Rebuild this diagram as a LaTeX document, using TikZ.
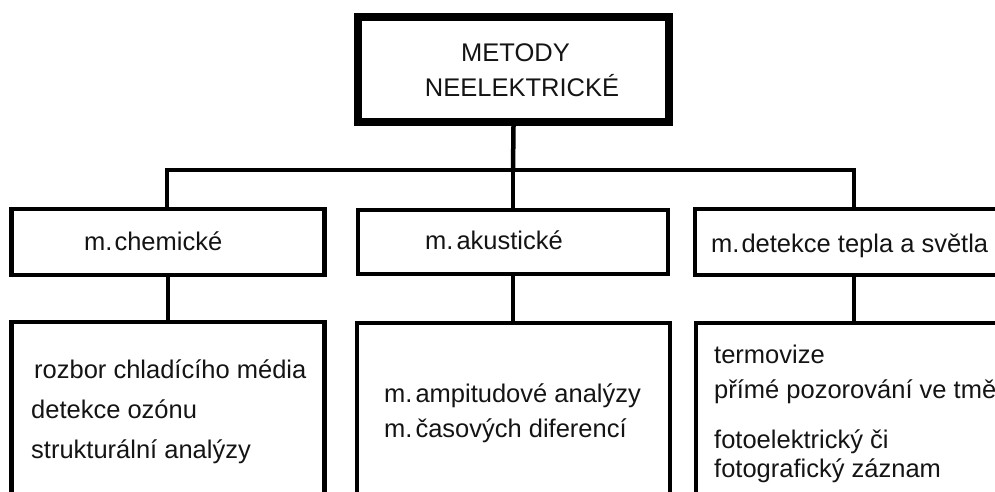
\documentclass[tikz,border=0pt]{standalone}
\usepackage{fontspec}
\setmainfont{Liberation Sans}
\begin{document}
\begin{tikzpicture}[x=1pt,y=-1pt,
  box/.style={draw=black, line width=4.5pt, inner sep=0pt, rectangle, fill=white},
  topbox/.style={box, line width=8.3pt},
  txt/.style={anchor=base west, inner sep=0pt, text=black!92, font=\fontsize{25.5}{30}\selectfont},
  ctxt/.style={txt, anchor=base},
  conn/.style={line width=4.5pt, line cap=rect}]
\useasboundingbox (0,0) rectangle (995,492);
\clip (0,0) rectangle (995,492);
% connectors
\coordinate (hL) at (167,170);
\coordinate (hR) at (854,170);
\coordinate (hM) at (513,170);
% boxes
\node[topbox, minimum width=311pt, minimum height=105pt] (top) at (513.5,69.5) {};
\node[box, minimum width=313pt, minimum height=66pt] (m1) at (168,242) {};
\node[box, minimum width=310pt, minimum height=64pt] (m2) at (513,242) {};
\node[box, minimum width=318pt, minimum height=66pt] (m3) at (854,242) {};
\node[box, minimum width=313pt, minimum height=240pt] (b1) at (168,442) {};
\node[box, minimum width=313pt, minimum height=240pt] (b2) at (513.5,443) {};
\node[box, minimum width=318pt, minimum height=240pt] (b3) at (855,443) {};
\draw[conn] (top.south) -- (hM);
\draw[conn] (hL) -- (hR);
\draw[conn] (hL) -- (hL |- m1.north);
\draw[conn] (hM) -- (m2.north);
\draw[conn] (hR) -- (m3.north);
\draw[conn] (m1.south) -- (m1.south |- b1.north);
\draw[conn] (m2.south) -- (m2.south |- b2.north);
\draw[conn] (m3.south) -- (m3.south |- b3.north);
% texts
\node[ctxt] (t1) at (515.5,62) {METODY};
\node[ctxt] (t2) at (522,97) {NEELEKTRICKÉ};
\node[txt] (tm1) at (84,250) {m.\kern2pt chemické};
\node[txt] (tm2) at (425,249) {m.\kern3pt akustické};
\node[txt] (tm3) at (711,252) {m.\kern2pt detekce tepla a světla};
\node[txt] (tb11) at (34,378) {rozbor chladícího média};
\node[txt] (tb12) at (31,418) {detekce ozónu};
\node[txt] (tb13) at (31,458) {strukturální analýzy};
\node[txt] (tb21) at (384,402) {m.\kern3pt ampitudové analýzy};
\node[txt] (tb22) at (384,437) {m.\kern3pt časových diferencí};
\node[txt] (tb31) at (714,363) {termovize};
\node[txt] (tb32) at (714,398) {přímé pozorování ve tmě};
\node[txt] (tb33) at (714,448) {fotoelektrický či};
\node[txt] (tb34) at (714,477) {fotografický záznam};
\end{tikzpicture}
\end{document}
